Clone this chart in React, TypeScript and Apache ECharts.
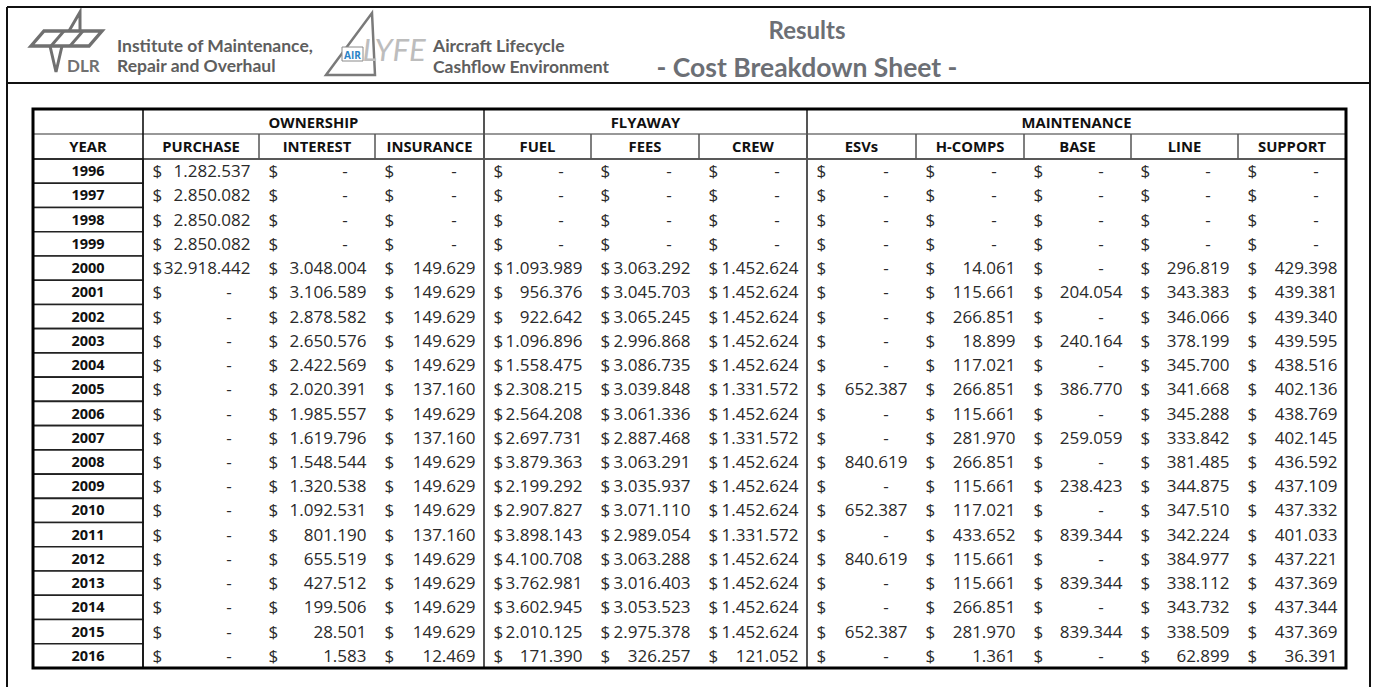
import React, { useEffect, useRef } from 'react';
import * as echarts from 'echarts';

// ---------- data ----------
const YEARS = ['1996','1997','1998','1999','2000','2001','2002','2003','2004','2005','2006','2007','2008','2009','2010','2011','2012','2013','2014','2015','2016'];
const GROUPS = ['OWNERSHIP', 'FLYAWAY', 'MAINTENANCE'];
const COLUMNS = ['PURCHASE','INTEREST','INSURANCE','FUEL','FEES','CREW','ESVs','H-COMPS','BASE','LINE','SUPPORT'];

const PURCHASE = [1282537,2850082,2850082,2850082,32918442,0,0,0,0,0,0,0,0,0,0,0,0,0,0,0,0];
const INTEREST = [0,0,0,0,3048004,3106589,2878582,2650576,2422569,2020391,1985557,1619796,1548544,1320538,1092531,801190,655519,427512,199506,28501,1583];
const INSURANCE = [0,0,0,0,149629,149629,149629,149629,149629,137160,149629,137160,149629,149629,149629,137160,149629,149629,149629,149629,12469];
const FUEL = [0,0,0,0,1093989,956376,922642,1096896,1558475,2308215,2564208,2697731,3879363,2199292,2907827,3898143,4100708,3762981,3602945,2010125,171390];
const FEES = [0,0,0,0,3063292,3045703,3065245,2996868,3086735,3039848,3061336,2887468,3063291,3035937,3071110,2989054,3063288,3016403,3053523,2975378,326257];
const CREW = [0,0,0,0,1452624,1452624,1452624,1452624,1452624,1331572,1452624,1331572,1452624,1452624,1452624,1331572,1452624,1452624,1452624,1452624,121052];
const ESVS = [0,0,0,0,0,0,0,0,0,652387,0,0,840619,0,652387,0,840619,0,0,652387,0];
const HCOMPS = [0,0,0,0,14061,115661,266851,18899,117021,266851,115661,281970,266851,115661,117021,433652,115661,115661,266851,281970,1361];
const BASE = [0,0,0,0,0,204054,0,240164,0,386770,0,259059,0,238423,0,839344,0,839344,0,839344,0];
const LINE = [0,0,0,0,296819,343383,346066,378199,345700,341668,345288,333842,381485,344875,347510,342224,384977,338112,343732,338509,62899];
const SUPPORT = [0,0,0,0,429398,439381,439340,439595,438516,402136,438769,402145,436592,437109,437332,401033,437221,437369,437344,437369,36391];

const SERIES_VALUES = [PURCHASE, INTEREST, INSURANCE, FUEL, FEES, CREW, ESVS, HCOMPS, BASE, LINE, SUPPORT];
const GROUP_SPANS = [[0, 2], [3, 5], [6, 10]]; // column index ranges of each group

// ---------- layout ----------
const TABLE_LEFT = 33;
const TABLE_TOP = 109;
const HEAD1_BOTTOM = 134;
const HEAD2_BOTTOM = 159;
const TABLE_BOTTOM = 668;
// column edges relative to table left: year column then 11 value columns
const COL_EDGES = [0, 110, 226, 342, 451, 558, 666, 774, 883, 991, 1098, 1205, 1313];
const TABLE_WIDTH = COL_EDGES[COL_EDGES.length - 1];

const DATA_FONT = '"Open Sans", "Noto Sans", sans-serif';
const HEAD_FONT = 'Lato, "Open Sans", sans-serif';
const GREY = '#6c6f75';
const VAL_FONT = `17px ${DATA_FONT}`;
const HDR_FONT = `bold 14.8px ${DATA_FONT}`;

function fmt(v: number): string {
  return String(Math.round(v)).replace(/\B(?=(\d{3})+(?!\d))/g, '.');
}

type Cell = { kind: 'year' | 'value'; text: string; zero: boolean };

export default function App() {
  const ref = useRef<HTMLDivElement>(null);

  useEffect(() => {
    if (!ref.current) return;
    const chart = echarts.init(ref.current, undefined, { renderer: 'svg' });

    const cells: Cell[] = [];
    const data: number[][] = [];
    YEARS.forEach((y, r) => {
      cells.push({ kind: 'year', text: y, zero: false });
      data.push([COL_EDGES[0], COL_EDGES[1], r]);
      SERIES_VALUES.forEach((arr, c) => {
        const v = arr[r];
        cells.push({ kind: 'value', text: v ? fmt(v) : '-', zero: !v });
        data.push([COL_EDGES[c + 1], COL_EDGES[c + 2], r]);
      });
    });

    const X = (i: number) => TABLE_LEFT + COL_EDGES[i];
    const graphics: any[] = [];
    const line = (x1: number, y1: number, x2: number, y2: number, stroke: string, w: number, z = 50) =>
      graphics.push({ type: 'line', shape: { x1, y1, x2, y2 }, style: { stroke, lineWidth: w }, z, silent: true });

    // page frame
    line(7, 7, 1371, 7, '#111', 2);
    line(7, 7, 7, 687, '#111', 2);
    line(1370, 7, 1370, 687, '#111', 2);
    line(7, 83, 1371, 83, '#111', 2);

    // DLR logo
    const LOGO = '#707070';
    graphics.push({
      type: 'polygon', shape: { points: [[31, 46], [44, 31], [102, 31], [89, 46]] },
      style: { fill: 'none', stroke: LOGO, lineWidth: 3.4, lineJoin: 'miter' }, z: 10,
    });
    graphics.push({ type: 'line', shape: { x1: 51, y1: 46, x2: 64, y2: 31 }, style: { stroke: LOGO, lineWidth: 3 }, z: 10 });
    graphics.push({ type: 'line', shape: { x1: 70, y1: 46, x2: 83, y2: 31 }, style: { stroke: LOGO, lineWidth: 3 }, z: 10 });
    graphics.push({ type: 'polyline', shape: { points: [[69, 31], [80, 12], [80, 31]] }, style: { fill: 'none', stroke: LOGO, lineWidth: 3 }, z: 10 });
    graphics.push({ type: 'polyline', shape: { points: [[50, 46], [56, 72], [62, 46]] }, style: { fill: 'none', stroke: LOGO, lineWidth: 3 }, z: 10 });
    graphics.push({ type: 'text', x: 67, y: 65, style: { text: 'DLR', font: `bold 17px ${HEAD_FONT}`, fill: LOGO, verticalAlign: 'middle' }, z: 10 });

    const SUB = '#5e5e5e';
    graphics.push({ type: 'text', x: 117, y: 45, style: { text: 'Institute of Maintenance,', font: `bold 17.5px ${HEAD_FONT}`, fill: SUB, verticalAlign: 'middle' }, z: 10 });
    graphics.push({ type: 'text', x: 117, y: 65, style: { text: 'Repair and Overhaul', font: `bold 17.5px ${HEAD_FONT}`, fill: SUB, verticalAlign: 'middle' }, z: 10 });

    // AirLYFE logo
    graphics.push({
      type: 'polygon', shape: { points: [[326, 75], [372, 13], [375, 75]] },
      style: { fill: 'none', stroke: '#7a7a7a', lineWidth: 2.5 }, z: 10,
    });
    graphics.push({ type: 'text', x: 394, y: 49, style: { text: 'LYFE', font: `italic 31px ${HEAD_FONT}`, fill: '#bdbdbd', align: 'center', verticalAlign: 'middle' }, z: 11 });
    graphics.push({ type: 'rect', shape: { x: 342, y: 47, width: 21, height: 14 }, style: { fill: '#fff', stroke: '#8a8a8a', lineWidth: 1 }, z: 12 });
    graphics.push({ type: 'text', x: 352.5, y: 54.5, style: { text: 'AIR', font: `bold 10px ${DATA_FONT}`, fill: '#2b83c6', align: 'center', verticalAlign: 'middle' }, z: 13 });

    graphics.push({ type: 'text', x: 433, y: 45, style: { text: 'Aircraft Lifecycle', font: `bold 17.5px ${HEAD_FONT}`, fill: SUB, verticalAlign: 'middle' }, z: 10 });
    graphics.push({ type: 'text', x: 433, y: 66, style: { text: 'Cashflow Environment', font: `bold 17.5px ${HEAD_FONT}`, fill: SUB, verticalAlign: 'middle' }, z: 10 });

    // titles
    graphics.push({ type: 'text', x: 807, y: 29, style: { text: 'Results', font: `bold 24px ${HEAD_FONT}`, fill: GREY, align: 'center', verticalAlign: 'middle' }, z: 10 });
    graphics.push({ type: 'text', x: 807, y: 67, style: { text: '- Cost Breakdown Sheet -', font: `bold 26.5px ${HEAD_FONT}`, fill: GREY, align: 'center', verticalAlign: 'middle' }, z: 10 });

    // table header
    graphics.push({ type: 'rect', shape: { x: TABLE_LEFT, y: TABLE_TOP, width: TABLE_WIDTH, height: HEAD2_BOTTOM - TABLE_TOP }, style: { fill: '#fff' }, z: 5 });
    GROUPS.forEach((g, gi) => {
      const [a, b] = GROUP_SPANS[gi];
      const cx = (X(a + 1) + X(b + 2)) / 2;
      graphics.push({ type: 'text', x: cx, y: (TABLE_TOP + HEAD1_BOTTOM) / 2 + 0.5, style: { text: g, font: HDR_FONT, fill: '#111', align: 'center', verticalAlign: 'middle' }, z: 60 });
    });
    const h2y = (HEAD1_BOTTOM + HEAD2_BOTTOM) / 2 - 1;
    graphics.push({ type: 'text', x: (X(0) + X(1)) / 2, y: h2y, style: { text: 'YEAR', font: HDR_FONT, fill: '#111', align: 'center', verticalAlign: 'middle' }, z: 60 });
    COLUMNS.forEach((c, ci) => {
      const cx = (X(ci + 1) + X(ci + 2)) / 2;
      graphics.push({ type: 'text', x: cx, y: h2y, style: { text: c, font: HDR_FONT, fill: '#111', align: 'center', verticalAlign: 'middle' }, z: 60 });
    });
    // header lines
    line(TABLE_LEFT, HEAD1_BOTTOM, TABLE_LEFT + TABLE_WIDTH, HEAD1_BOTTOM, '#333', 1.2);
    line(TABLE_LEFT, HEAD2_BOTTOM, TABLE_LEFT + TABLE_WIDTH, HEAD2_BOTTOM, '#222', 1.6);
    COLUMNS.forEach((_, ci) => {
      if (ci === 0) return;
      line(X(ci + 1), HEAD1_BOTTOM, X(ci + 1), HEAD2_BOTTOM, '#555', 1.5);
    });
    line(X(1), TABLE_TOP, X(1), TABLE_BOTTOM, '#111', 1.6, 55);
    GROUP_SPANS.forEach(([a]) => {
      if (a === 0) return;
      line(X(a + 1), TABLE_TOP, X(a + 1), TABLE_BOTTOM, '#555', 2, 55);
    });
    graphics.push({ type: 'rect', shape: { x: TABLE_LEFT, y: TABLE_TOP, width: TABLE_WIDTH, height: TABLE_BOTTOM - TABLE_TOP }, style: { fill: 'none', stroke: '#000', lineWidth: 3 }, z: 70, silent: true });

    chart.setOption({
      animation: false,
      backgroundColor: '#fff',
      grid: { left: TABLE_LEFT, top: HEAD2_BOTTOM, width: TABLE_WIDTH, height: TABLE_BOTTOM - HEAD2_BOTTOM, containLabel: false },
      xAxis: { type: 'value', min: 0, max: TABLE_WIDTH, show: false },
      yAxis: { type: 'category', data: YEARS, inverse: true, show: false, boundaryGap: true },
      graphic: graphics,
      series: [{
        type: 'custom',
        coordinateSystem: 'cartesian2d',
        clip: false,
        encode: { x: [0, 1], y: 2 },
        data,
        z: 20,
        renderItem: (params: any, api: any) => {
          const cell = cells[params.dataIndex];
          const l = api.coord([api.value(0), api.value(2)]);
          const r = api.coord([api.value(1), api.value(2)]);
          const h = api.size([0, 1])[1];
          const cy = l[1] - 0.5;
          if (cell.kind === 'year') {
            return {
              type: 'group',
              children: [
                { type: 'rect', shape: { x: l[0], y: l[1] - h / 2, width: r[0] - l[0], height: h }, style: { fill: '#fff', stroke: '#222', lineWidth: 1.6 } },
                { type: 'text', x: (l[0] + r[0]) / 2, y: cy, style: { text: cell.text, font: `bold 14.5px ${DATA_FONT}`, fill: '#111', align: 'center', verticalAlign: 'middle' } },
              ],
            };
          }
          const children: any[] = [
            { type: 'text', x: l[0] + 9.5, y: cy, style: { text: '$', font: VAL_FONT, fill: '#2a2a2a', align: 'left', verticalAlign: 'middle' } },
          ];
          if (cell.zero) {
            children.push({ type: 'text', x: r[0] - 30, y: cy, style: { text: '-', font: VAL_FONT, fill: '#2a2a2a', align: 'center', verticalAlign: 'middle' } });
          } else {
            children.push({ type: 'text', x: r[0] - 8.5, y: cy, style: { text: cell.text, font: VAL_FONT, fill: '#2a2a2a', align: 'right', verticalAlign: 'middle' } });
          }
          return { type: 'group', children };
        },
      }],
    });

    return () => chart.dispose();
  }, []);

  return <div ref={ref} style={{ position: 'fixed', left: 0, top: 0, width: 1373, height: 687 }} />;
}
